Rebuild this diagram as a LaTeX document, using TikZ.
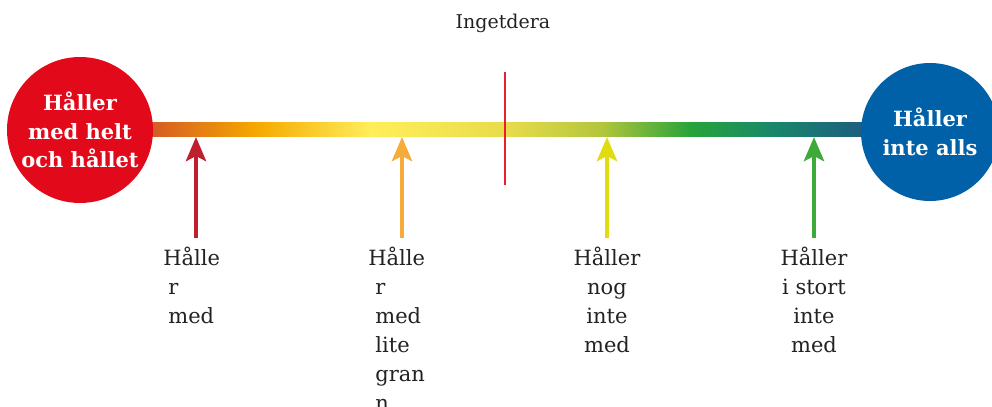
\documentclass[tikz,border=0pt]{standalone}
\usepackage{fontspec}
\setmainfont{DejaVu Serif}
\usetikzlibrary{arrows.meta}

\definecolor{agreered}{HTML}{E20A1A}
\definecolor{disagreeblue}{HTML}{0060A8}
\definecolor{midline}{HTML}{E8202E}
\definecolor{arrowred}{HTML}{C0202E}
\definecolor{arroworange}{HTML}{F5AC3A}
\definecolor{arrowyellow}{HTML}{E0DC10}
\definecolor{arrowgreen}{HTML}{3DAA3A}
\definecolor{labeltext}{HTML}{222222}
% bar stops
\definecolor{barA}{HTML}{D45A24}
\definecolor{barB}{HTML}{F5A800}
\definecolor{barC}{HTML}{FFEE5A}
\definecolor{barD}{HTML}{E8DC4A}
\definecolor{barE}{HTML}{B2C63C}
\definecolor{barF}{HTML}{27A33A}
\definecolor{barG}{HTML}{19886A}
\definecolor{barH}{HTML}{1D5E80}

\pgfdeclarehorizontalshading{scalebar}{100bp}{%
  color(0bp)=(barA); color(25bp)=(barA);
  color(32.4bp)=(barB);
  color(40.5bp)=(barC);
  color(50bp)=(barD);
  color(56.7bp)=(barE);
  color(63bp)=(barF);
  color(68.7bp)=(barG);
  color(75bp)=(barH); color(100bp)=(barH)}

\tikzset{
  endcircle/.style={circle, inner sep=0pt, text=white,
    font=\fontsize{10.5}{14.2}\selectfont\bfseries, align=center},
  answer/.style={inner sep=0pt, text=labeltext,
    font=\fontsize{10.5}{14.5}\selectfont},
  pointer/.style={line width=2.4pt, -{Stealth[length=12pt,width=10pt,inset=2.5pt]}}
}

\begin{document}
\begin{tikzpicture}[x=0.5pt, y=-0.5pt]
  \useasboundingbox (0,0) rectangle (992,407);
  % Bar
  \shade[shading=scalebar] (150,122) rectangle (862,136);
  % Nodes
  \node (agree) [endcircle, fill=agreered, minimum size=73pt] at (80,130) {Håller\\med helt\\och hållet};
  \node (disagree) [endcircle, fill=disagreeblue, minimum size=69pt] at (930,132) {Håller\\inte alls};
  \node (neutral) [answer, font=\fontsize{9.5}{12}\selectfont] at (503,23) {Ingetdera};
  \coordinate (top) at (505,72);
  \coordinate (bottom) at (505,185);
  \draw[midline, line width=1pt] (top) -- (bottom);
  % Answers
  \node (a1) [answer, anchor=north west, align=left] at (163,247) {Hålle\\\hspace*{2.5pt}r\\\hspace*{2.5pt}med};
  \node (a2) [answer, anchor=north west, align=left] at (368,247) {Hålle\\\hspace*{3.5pt}r\\\hspace*{3.5pt}med\\\hspace*{3.5pt}lite\\\hspace*{3.5pt}gran\\\hspace*{3.5pt}n};
  \node (a3) [answer, anchor=north, align=center] at (607,247) {Håller\\nog\\inte\\med};
  \node (a4) [answer, anchor=north, align=center] at (814,247) {Håller\\i stort\\inte\\med};
  % Arrows
  \coordinate (s1) at (196,238);
  \coordinate (t1) at (196,137);
  \coordinate (s2) at (402,238);
  \coordinate (t2) at (402,137);
  \coordinate (s3) at (607,238);
  \coordinate (t3) at (607,137);
  \coordinate (s4) at (814,238);
  \coordinate (t4) at (814,137);
  \draw[pointer, arrowred] (s1) -- (t1);
  \draw[pointer, arroworange] (s2) -- (t2);
  \draw[pointer, arrowyellow] (s3) -- (t3);
  \draw[pointer, arrowgreen] (s4) -- (t4);
\end{tikzpicture}
\end{document}
